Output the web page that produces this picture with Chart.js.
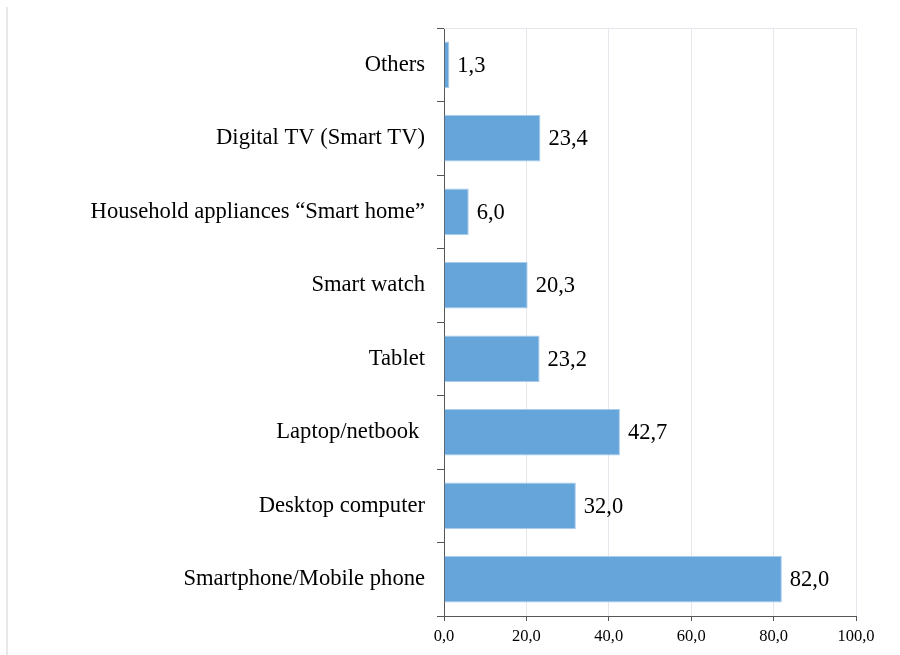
<!DOCTYPE html>
<html>
<head>
<meta charset="utf-8">
<script src="https://cdn.jsdelivr.net/npm/chart.js@4.4.0/dist/chart.umd.min.js"></script>
<style>
  html, body { margin: 0; padding: 0; background: #fff; }
  #wrap { width: 900px; height: 655px; position: relative; }
</style>
</head>
<body>
<div id="wrap"><canvas id="devices"></canvas></div>
<script>
// Devices used, % of respondents
const devices = [
  "Others",
  "Digital TV (Smart TV)",
  "Household appliances \u201cSmart home\u201d",
  "Smart watch",
  "Tablet",
  "Laptop/netbook ",
  "Desktop computer",
  "Smartphone/Mobile phone"
];
const shares = [1.3, 23.4, 6.0, 20.3, 23.2, 42.7, 32.0, 82.0];
const xTicks = [0, 20, 40, 60, 80, 100];

const serif = "'Liberation Serif', 'Times New Roman', serif";
const fmt = v => v.toFixed(1).replace(".", ",");

// value text just past the end of each bar
const valueLabels = {
  id: "valueLabels",
  afterDatasetsDraw(chart) {
    const ctx = chart.ctx;
    const meta = chart.getDatasetMeta(0);
    ctx.save();
    ctx.font = "22.5px " + serif;
    ctx.fillStyle = "#000";
    ctx.textBaseline = "middle";
    ctx.textAlign = "left";
    meta.data.forEach((bar, i) => {
      ctx.fillText(fmt(shares[i]), bar.x + 8, bar.y + 1);
    });
    ctx.restore();
  }
};

// light frame: top edge of plot area and the outer left edge
const frame = {
  id: "frame",
  beforeDatasetsDraw(chart) {
    const { ctx, chartArea } = chart;
    ctx.save();
    ctx.strokeStyle = "#e6e7ec";
    ctx.lineWidth = 1;
    ctx.beginPath();
    ctx.moveTo(chartArea.left, chartArea.top + 0.5);
    ctx.lineTo(chartArea.right, chartArea.top + 0.5);
    ctx.stroke();
    ctx.strokeStyle = "#e8e8e8";
    ctx.lineWidth = 2;
    ctx.beginPath();
    ctx.moveTo(7, 7);
    ctx.lineTo(7, chart.height);
    ctx.stroke();
    ctx.restore();
  }
};

new Chart(document.getElementById("devices"), {
  type: "bar",
  data: {
    labels: devices,
    datasets: [{
      data: shares,
      backgroundColor: "#66a5d9",
      borderColor: "#a9cbec",
      borderWidth: 1,
      borderSkipped: "left",
      barPercentage: 0.63,
      categoryPercentage: 1.0
    }]
  },
  options: {
    indexAxis: "y",
    responsive: true,
    maintainAspectRatio: false,
    animation: false,
    layout: { padding: { top: 28, right: 44, bottom: 0, left: 0 } },
    plugins: {
      legend: { display: false },
      tooltip: { enabled: false }
    },
    scales: {
      x: {
        min: 0,
        max: 100,
        afterBuildTicks: s => { s.ticks = xTicks.map(v => ({ value: v })); },
        grid: {
          color: "#e6e7ec",
          tickColor: "#555",
          tickLength: 5,
          lineWidth: 1
        },
        border: { color: "#555", width: 1 },
        ticks: {
          color: "#000",
          font: { family: serif, size: 16.5 },
          padding: 6,
          callback: v => fmt(v)
        },
        afterFit: s => { s.height = 39; }
      },
      y: {
        grid: {
          drawOnChartArea: false,
          tickColor: "#555",
          tickLength: 7,
          offset: true
        },
        border: { color: "#555", width: 1 },
        ticks: {
          color: "#000",
          font: { family: serif, size: 22.6 },
          padding: 12
        },
        afterFit: s => { s.width = 444; }
      }
    }
  },
  plugins: [frame, valueLabels]
});
</script>
</body>
</html>
